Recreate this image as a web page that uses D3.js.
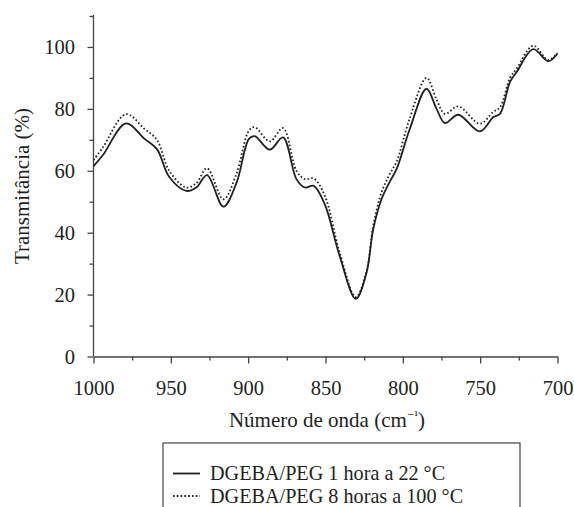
<!DOCTYPE html>
<html>
<head>
<meta charset="utf-8">
<script src="https://cdnjs.cloudflare.com/ajax/libs/d3/7.8.5/d3.min.js"></script>
<style>
  body { margin: 0; background: #fff; }
  svg text { font-family: "Liberation Serif", serif; fill: #231f20; }
</style>
</head>
<body>
<div class="content"></div>
<script>
// wavenumber (cm-1) and transmittance (%)
var waveSolid = [1000, 994, 979, 967, 959, 951, 940, 933.5, 926.6, 916, 907.6, 899.5, 895.8, 886, 877.5, 868.8, 863.4, 857.6, 850.5, 840.8, 830.4, 823.5, 819.2, 813.8, 808.4, 804, 795.5, 784.7, 778.2, 772.8, 764.2, 750.2, 741.6, 737.2, 730.7, 726.4, 715.7, 706, 700];
var transSolid = [61.5, 65, 75.3, 70.3, 67, 58, 53.5, 54.6, 58.6, 48.4, 56, 70.3, 71.2, 66.8, 70.8, 57.3, 54.6, 55.1, 49.2, 32.4, 18.6, 27, 41, 50.8, 56.5, 60.6, 73.5, 86.5, 80, 75.4, 78.1, 72.7, 77.3, 78.4, 88.7, 91.9, 99.3, 95.4, 97.9];

var waveDotted = [1000, 994, 979, 967, 959, 951, 940, 933.5, 926.6, 916, 907.6, 899.5, 895.8, 886, 877.5, 868.8, 863.4, 857.6, 850.5, 840.8, 830.4, 823.5, 819.2, 813.8, 808.4, 804, 795.5, 784.7, 778.2, 772.8, 764.2, 750.2, 741.6, 737.2, 730.7, 726.4, 715.7, 706, 700];
var transDotted = [63.5, 67.5, 78.3, 73.5, 70, 60, 54.6, 56, 60.8, 50.8, 59, 73, 74.1, 69.5, 73.8, 60, 57.3, 57.5, 52, 33.5, 19.2, 27.5, 42, 53, 59, 63, 77, 90, 83, 78.4, 80.8, 75.2, 79, 80.5, 90, 93, 100.4, 95.8, 98];

var xMajor = [1000, 950, 900, 850, 800, 750, 700];
var xMinor = [975, 925, 875, 825, 775, 725];
var yMajor = [0, 20, 40, 60, 80, 100];
var yMinor = [10, 30, 50, 70, 90, 110];

var legendLabels = ["DGEBA/PEG 1 hora a 22 \u00b0C", "DGEBA/PEG 8 horas a 100 \u00b0C"];

var W = 574, H = 507;
var serif = "Liberation Serif";
var svg = d3.select(".content").append("svg")
    .attr("width", W)
    .attr("height", H);

var x = d3.scaleLinear().domain([1000, 700]).range([93.5, 557.5]);
var y = d3.scaleLinear().domain([0, 110]).range([356.5, 16]);

var ink = "#231f20";

// axes
var gx = svg.append("g").attr("transform", "translate(0," + y(0) + ")");
gx.call(d3.axisBottom(x).tickValues(xMajor).tickFormat(d3.format("d"))
    .tickSize(7).tickSizeOuter(0).tickPadding(17));
gx.append("g").call(d3.axisBottom(x).tickValues(xMinor).tickSize(4).tickFormat(""))
    .select(".domain").remove();

var gy = svg.append("g").attr("transform", "translate(" + x(1000) + ",0)");
gy.call(d3.axisLeft(y).tickValues(yMajor).tickSize(6).tickSizeOuter(0).tickPadding(12.5));
gy.append("g").call(d3.axisLeft(y).tickValues(yMinor).tickSize(4).tickFormat(""))
    .select(".domain").remove();
gy.select(".domain").attr("d", "M0," + y(0) + "V" + 15);

svg.selectAll("g").attr("font-family", serif);
svg.selectAll(".domain, .tick line").attr("stroke", "#444").attr("stroke-width", 1.3);
svg.selectAll(".tick text").attr("font-size", 20.5).attr("fill", ink);

// axis titles
svg.append("text")
    .attr("transform", "translate(28.5,186) rotate(-90)")
    .attr("text-anchor", "middle")
    .attr("font-family", serif)
    .attr("font-size", 21)
    .text("Transmitância (%)");

var xt = svg.append("text")
    .attr("x", 327).attr("y", 426.5)
    .attr("text-anchor", "middle")
    .attr("font-family", serif)
    .attr("font-size", 21)
    .text("Número de onda (cm");
xt.append("tspan").attr("font-size", 13).attr("dy", -8).text("\u2212\u00b9");
xt.append("tspan").attr("dy", 8).text(")");

// the lines
var line = d3.line()
    .x(function(d) { return x(d[0]); })
    .y(function(d) { return y(d[1]); })
    .curve(d3.curveCatmullRom.alpha(0.5));

svg.append("path")
    .datum(d3.zip(waveDotted, transDotted))
    .attr("fill", "none")
    .attr("stroke", ink)
    .attr("stroke-width", 1.8)
    .attr("stroke-dasharray", "1.6,2.2")
    .attr("d", line);

svg.append("path")
    .datum(d3.zip(waveSolid, transSolid))
    .attr("fill", "none")
    .attr("stroke", ink)
    .attr("stroke-width", 1.8)
    .attr("d", line);

// legend
svg.append("rect")
    .attr("x", 163).attr("y", 443)
    .attr("width", 357).attr("height", 80)
    .attr("fill", "none")
    .attr("stroke", "#444")
    .attr("stroke-width", 1.2);

var styles = [null, "1.6,2.2"];
legendLabels.forEach(function(lab, i) {
    var ly = 473.5 + i * 22.5;
    svg.append("line")
        .attr("x1", 173).attr("x2", 200)
        .attr("y1", ly).attr("y2", ly)
        .attr("stroke", ink)
        .attr("stroke-width", 1.8)
        .attr("stroke-dasharray", styles[i]);
    svg.append("text")
        .attr("x", 210).attr("y", ly + 6.5)
        .attr("font-family", serif)
        .attr("font-size", 20.2)
        .text(lab);
});
</script>
</body>
</html>
